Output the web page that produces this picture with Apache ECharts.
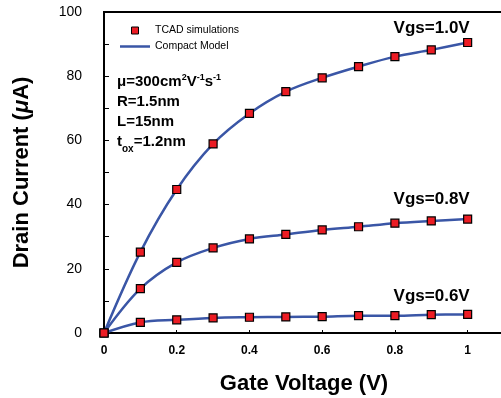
<!DOCTYPE html>
<html>
<head>
<meta charset="utf-8">
<script src="https://cdn.jsdelivr.net/npm/echarts@6/dist/echarts.min.js"></script>
<style>
  html, body { margin: 0; padding: 0; background: #fff; }
  #chart { width: 501px; height: 398px; }
</style>
</head>
<body>
<div id="chart"></div>
<script>
// Drain voltage sweep (V)
var vds = [0, 0.1, 0.2, 0.3, 0.4, 0.5, 0.6, 0.7, 0.8, 0.9, 1.0];
// Drain current (uA) for each gate bias
var id10 = [0, 25.2, 44.7, 58.9, 68.4, 75.2, 79.5, 83.0, 86.1, 88.2, 90.5];
var id08 = [0, 13.8, 22.0, 26.5, 29.3, 30.7, 32.1, 33.1, 34.2, 34.9, 35.5];
var id06 = [0, 3.3, 4.1, 4.7, 4.9, 5.0, 5.1, 5.4, 5.4, 5.7, 5.8];
var biasLabels = ['Vgs=1.0V', 'Vgs=0.8V', 'Vgs=0.6V'];
var yTicks = [0, 20, 40, 60, 80, 100];
var xTicks = [0, 0.2, 0.4, 0.6, 0.8, 1];

var FONT = '"Liberation Sans", Arial, Helvetica, sans-serif';
var LINE_COLOR = '#3a56a6';
var MARK_COLOR = '#ec1c24';

function pairs(ys) {
  return vds.map(function (x, i) { return [x, ys[i]]; });
}

function markers(ys, label, dy) {
  var d = pairs(ys);
  var last = d.length - 1;
  d[last] = {
    value: d[last],
    label: {
      show: true,
      position: 'inside',
      offset: [-36, dy],
      formatter: label,
      color: '#000',
      fontFamily: FONT,
      fontWeight: 'bold',
      fontSize: 17
    }
  };
  return {
    name: 'TCAD simulations',
    type: 'scatter',
    symbol: 'rect',
    symbolSize: 8,
    z: 5,
    itemStyle: { color: MARK_COLOR, borderColor: '#000', borderWidth: 1.2, opacity: 1 },
    data: d
  };
}

function model(ys) {
  return {
    name: 'Compact Model',
    type: 'line',
    smooth: 0.35,
    symbol: 'none',
    z: 3,
    lineStyle: { color: LINE_COLOR, width: 2.5 },
    itemStyle: { color: LINE_COLOR },
    data: pairs(ys)
  };
}

var chart = echarts.init(document.getElementById('chart'));
chart.setOption({
  animation: false,
  backgroundColor: '#fff',
  grid: {
    left: 104, width: 400, top: 12, bottom: 65,
    outerBoundsMode: 'none',
    containLabel: false,
    show: true, borderColor: '#000', borderWidth: 2
  },
  legend: {
    orient: 'vertical',
    left: 120, top: 25, padding: 0,
    itemWidth: 30, itemHeight: 7, itemGap: 5,
    textStyle: { fontFamily: FONT, fontSize: 10.5, color: '#000' },
    data: [
      {
        name: 'TCAD simulations',
        icon: 'path://M0,0H10V10H0Z',
        itemStyle: { color: MARK_COLOR, borderColor: '#000', borderWidth: 1 }
      },
      {
        name: 'Compact Model',
        icon: 'path://M0,0H30V2.5H0Z',
        itemStyle: { color: LINE_COLOR, borderWidth: 0 }
      }
    ]
  },
  xAxis: {
    type: 'value',
    min: 0, max: 1.1, interval: 0.2,
    name: 'Gate Voltage (V)',
    nameLocation: 'middle',
    nameGap: 40,
    nameTextStyle: { fontFamily: FONT, fontWeight: 'bold', fontSize: 22, color: '#000' },
    axisLine: { lineStyle: { color: '#000', width: 2 } },
    axisTick: { inside: true, length: 3, lineStyle: { color: '#000', width: 1 } },
    splitLine: { show: false },
    axisLabel: {
      margin: 12,
      fontFamily: FONT, fontWeight: 'bold', fontSize: 12, color: '#000',
      formatter: function (v) {
        for (var i = 0; i < xTicks.length; i++) {
          if (Math.abs(xTicks[i] - v) < 1e-6) return String(xTicks[i]);
        }
        return '';
      }
    }
  },
  yAxis: {
    type: 'value',
    min: 0, max: 100, interval: 10,
    name: 'Drain Current ({i|μ}A)',
    nameLocation: 'middle',
    nameGap: 71,
    nameTextStyle: {
      fontFamily: FONT, fontWeight: 'bold', fontSize: 22, color: '#000',
      rich: { i: { fontFamily: FONT, fontWeight: 'bold', fontStyle: 'italic', fontSize: 22, color: '#000' } }
    },
    axisLine: { lineStyle: { color: '#000', width: 2 } },
    axisTick: { inside: true, length: 5, lineStyle: { color: '#000', width: 1 } },
    splitLine: { show: false },
    axisLabel: {
      margin: 22,
      fontFamily: FONT, fontSize: 14, color: '#000',
      formatter: function (v) { return yTicks.indexOf(v) >= 0 ? String(v) : ''; }
    }
  },
  graphic: [
    {
      type: 'text', x: 117, y: 82,
      style: {
        text: '{b|μ=300cm}{s|2}{b|V}{s|-1}{b|s}{s|-1}',
        verticalAlign: 'middle',
        rich: {
          b: { fontFamily: FONT, fontWeight: 'bold', fontSize: 15, lineHeight: 18, fill: '#000' },
          s: { fontFamily: FONT, fontWeight: 'bold', fontSize: 9, lineHeight: 18, verticalAlign: 'top', fill: '#000' }
        }
      }
    },
    {
      type: 'text', x: 117, y: 102,
      style: { text: 'R=1.5nm', verticalAlign: 'middle', fontFamily: FONT, fontWeight: 'bold', fontSize: 15, fill: '#000' }
    },
    {
      type: 'text', x: 117, y: 122,
      style: { text: 'L=15nm', verticalAlign: 'middle', fontFamily: FONT, fontWeight: 'bold', fontSize: 15, fill: '#000' }
    },
    {
      type: 'text', x: 117, y: 144,
      style: {
        text: '{b|t}{u|ox}{b|=1.2nm}',
        verticalAlign: 'middle',
        rich: {
          b: { fontFamily: FONT, fontWeight: 'bold', fontSize: 15, lineHeight: 20, verticalAlign: 'top', fill: '#000' },
          u: { fontFamily: FONT, fontWeight: 'bold', fontSize: 10, lineHeight: 20, verticalAlign: 'bottom', fill: '#000' }
        }
      }
    }
  ],
  series: [
    model(id10), model(id08), model(id06),
    markers(id10, biasLabels[0], -14),
    markers(id08, biasLabels[1], -20),
    markers(id06, biasLabels[2], -18.5)
  ]
});
</script>
</body>
</html>
